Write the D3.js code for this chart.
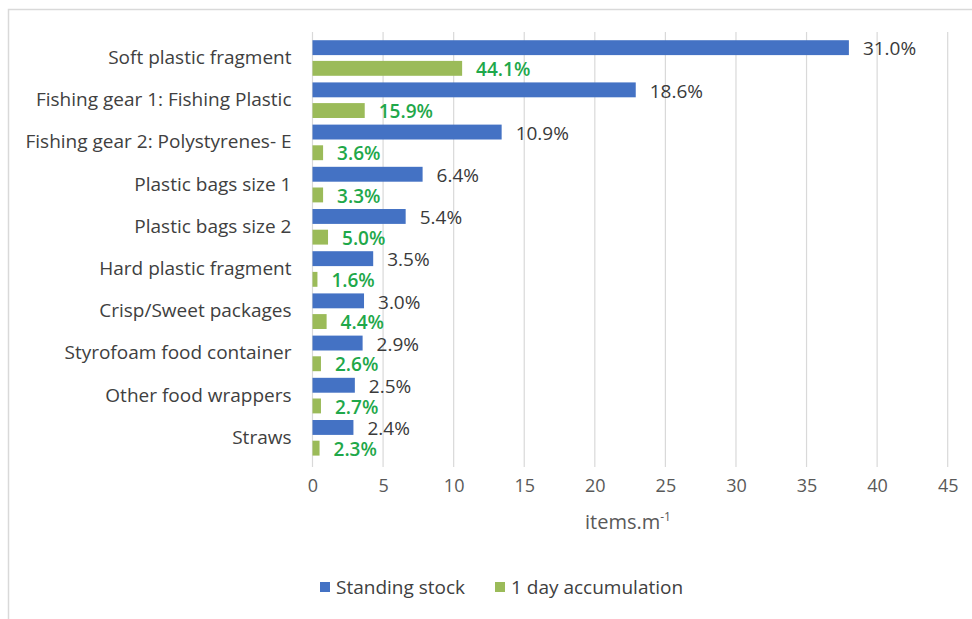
<!DOCTYPE html>
<html><head><meta charset="utf-8">
<script src="https://cdn.jsdelivr.net/npm/d3@7"></script>
<style>
body{margin:0;background:#fff;}
text{font-family:"Open Sans",sans-serif;}
</style></head>
<body>
<svg id="chart" width="972" height="619"></svg>
<script>
const categories = ["Soft plastic fragment","Fishing gear 1: Fishing Plastic","Fishing gear 2: Polystyrenes- E","Plastic bags size 1","Plastic bags size 2","Hard plastic fragment","Crisp/Sweet packages","Styrofoam food container","Other food wrappers","Straws"];
const seriesNames = ["Standing stock","1 day accumulation"];
const standingStock = [38.0,22.9,13.4,7.8,6.6,4.3,3.65,3.55,3.0,2.9];
const accumulation = [10.6,3.7,0.75,0.75,1.1,0.35,1.0,0.6,0.6,0.5];
const standingLabels = ["31.0%","18.6%","10.9%","6.4%","5.4%","3.5%","3.0%","2.9%","2.5%","2.4%"];
const accumulationLabels = ["44.1%","15.9%","3.6%","3.3%","5.0%","1.6%","4.4%","2.6%","2.7%","2.3%"];
const xTicks = [0,5,10,15,20,25,30,35,40,45];
const colors = ["#4472C4","#9BBB59"];
const labelColors = ["#3a3a3a","#1fa84a"];

const svg = d3.select("#chart");
// outer border
svg.append("rect").attr("x",8.5).attr("y",9.5).attr("width",1000).attr("height",700)
  .attr("fill","none").attr("stroke","#d9d9d9").attr("stroke-width",1.5);

const x = d3.scaleLinear().domain([0,45]).range([312.5,947.7]);
const y0 = d3.scaleBand().domain(categories).range([36.9,458.9]).padding(0);
const y1 = d3.scaleBand().domain(seriesNames).range([0,y0.bandwidth()]).paddingInner(0.28).paddingOuter(0.16);

// gridlines
svg.append("g").selectAll("line").data(xTicks).join("line")
  .attr("x1",d=>x(d)).attr("x2",d=>x(d)).attr("y1",32).attr("y2",467)
  .attr("stroke","#d9d9d9").attr("stroke-width",1.2);

// x axis labels
const xAxis = d3.axisBottom(x).tickValues(xTicks).tickSize(0).tickPadding(0).tickFormat(d3.format("d"));
const gx = svg.append("g").attr("transform","translate(0,479)").call(xAxis);
gx.select(".domain").remove();
gx.selectAll("text").attr("font-size",18).attr("fill","#595959").attr("font-family","Open Sans");

// y axis labels
const yAxis = d3.axisLeft(y0).tickSize(0).tickPadding(21);
const gy = svg.append("g").attr("transform",`translate(${x(0)},0)`).call(yAxis);
gy.select(".domain").remove();
gy.selectAll("text").attr("font-size",19).attr("fill","#404040").attr("font-family","Open Sans");

const data = categories.map((c,i)=>({cat:c, vals:[
  {s:seriesNames[0], v:standingStock[i], lab:standingLabels[i], k:0},
  {s:seriesNames[1], v:accumulation[i], lab:accumulationLabels[i], k:1}]}));

const groups = svg.append("g").selectAll("g").data(data).join("g")
  .attr("transform",d=>`translate(0,${y0(d.cat)})`);
groups.selectAll("rect").data(d=>d.vals).join("rect")
  .attr("x",x(0)).attr("y",d=>y1(d.s)).attr("height",y1.bandwidth())
  .attr("width",d=>x(d.v)-x(0)).attr("fill",d=>colors[d.k]);
groups.selectAll("text").data(d=>d.vals).join("text")
  .attr("x",d=>x(d.v)+14).attr("y",d=>y1(d.s)+y1.bandwidth()/2+1)
  .attr("dy","0.35em").attr("font-size",19)
  .attr("font-weight",d=>d.k===1?600:400)
  .attr("fill",d=>labelColors[d.k]).text(d=>d.lab);

// axis title
const t = svg.append("text").attr("x",628).attr("y",529).attr("text-anchor","middle")
  .attr("font-size",20).attr("fill","#595959");
t.append("tspan").text("items.m");
t.append("tspan").attr("font-size",12).attr("dy",-8).text("-1");

// legend
const legend = svg.append("g").attr("transform","translate(320,587)");
const lx = [0,175];
seriesNames.forEach((s,i)=>{
  legend.append("rect").attr("x",lx[i]).attr("y",-5).attr("width",10).attr("height",10).attr("fill",colors[i]);
  legend.append("text").attr("x",lx[i]+16).attr("y",0).attr("dy","0.35em")
    .attr("font-size",19).attr("fill","#404040").text(s);
});
</script>
</body></html>
